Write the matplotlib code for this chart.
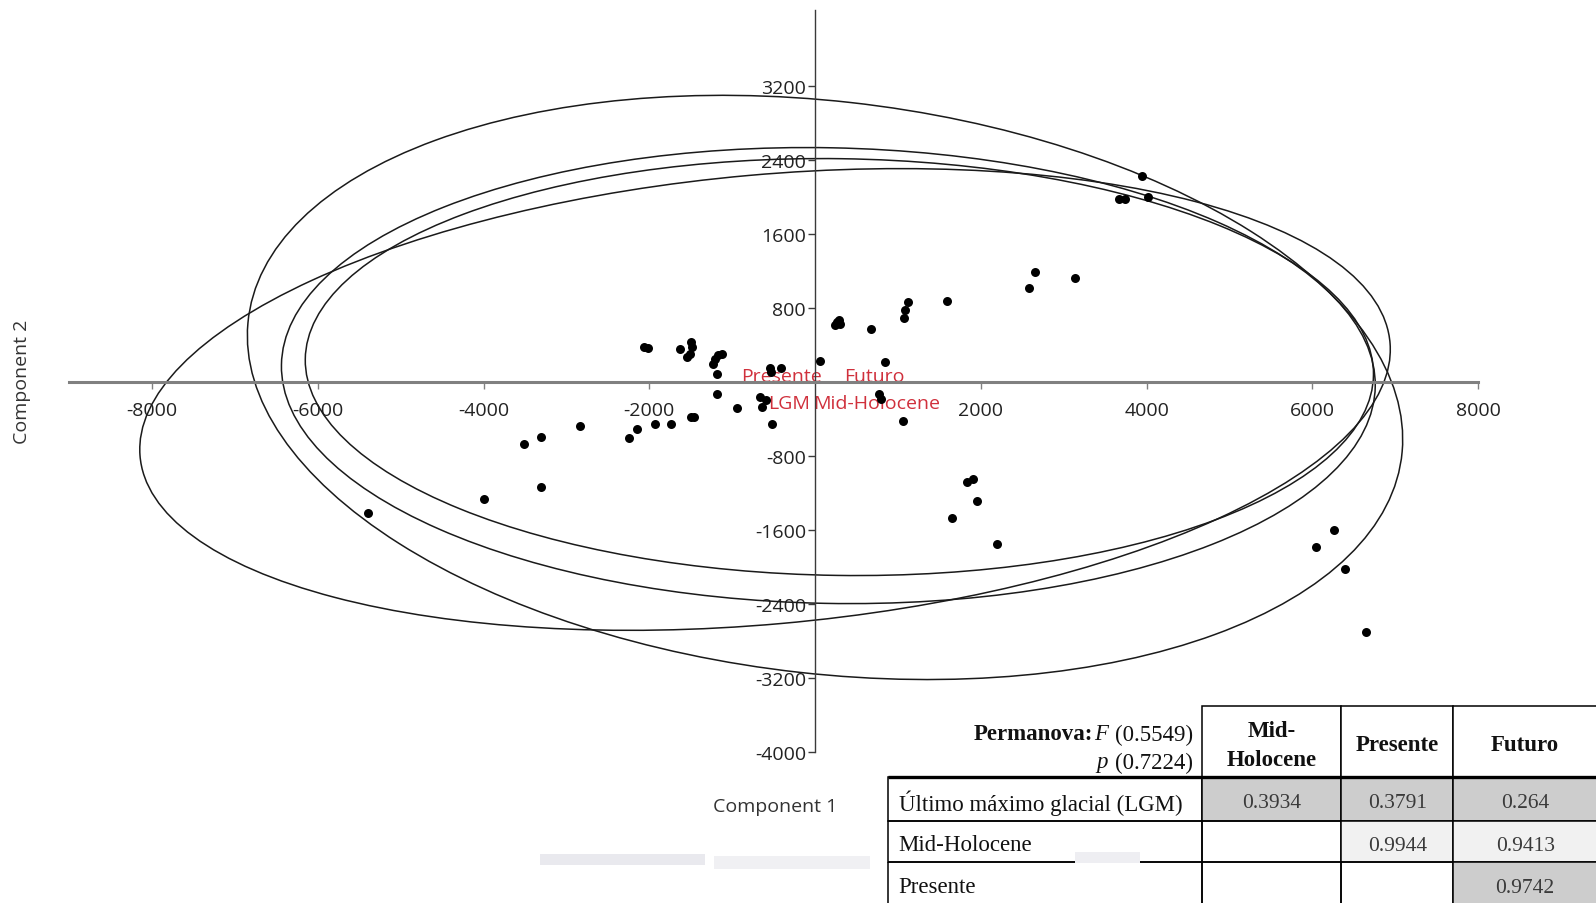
import matplotlib
matplotlib.use('Agg')
import matplotlib.pyplot as plt
from matplotlib.patches import Ellipse, Rectangle

plt.rcParams['axes.unicode_minus'] = False

# scores of the samples on the first two components
comp1 = [-5393, -3990, -3308, -3511, -3308, -2834, -2244, -2151, -1936, -1739,
         -1493, -1462, -2065, -2022, -1634, -1493, -1489, -1542, -1511, -1234,
         -1204, -1173, -1123, -1185, -1185, -945, -662, -638, -588, -545,
         -530, -416, -521, 60, 240, 260, 285, 295, 670, 843,
         770, 798, 1064, 1072, 1080, 1118, 1596, 2577, 2657, 3141,
         3664, 3744, 3940, 4013, 1829, 1902, 1957, 1656, 2190, 6046,
         6261, 6390, 6647]
comp2 = [-1411, -1260, -1134, -666, -594, -478, -605, -504, -457, -457,
         -378, -378, 378, 367, 360, 432, 378, 270, 306, 198,
         252, 288, 306, 80, -133, -281, -162, -270, -198, 145,
         108, 145, -457, 228, 610, 645, 670, 630, 575, 217,
         -133, -180, -418, 691, 775, 862, 871, 1019, 1188, 1127,
         1973, 1973, 2222, 1995, -1080, -1054, -1288, -1475, -1756, -1782,
         -1602, -2023, -2700]

# group labels (centroids)
groups = ['Presente', 'Futuro', 'LGM', 'Mid-Holocene']
group_x = [-407, 719, -315, 747]
group_y = [67, 67, -231, -231]

# 95% ellipses: centre, semi-axes, angle
ell_cx = [120, -604, 160, 293]
ell_cy = [-60, -190, 68, 160]
ell_a = [6998, 7566, 6600, 6445]
ell_b = [3092, 2427, 2460, 2250]
ell_ang = [-5.7, 4.56, -1.0, -0.75]

# permanova table
row_labels = ['Último máximo glacial (LGM)', 'Mid-Holocene', 'Presente']
col_labels = ['Mid-\nHolocene', 'Presente', 'Futuro']
p_values = [[0.3934, 0.3791, 0.264],
            [None, 0.9944, 0.9413],
            [None, None, 0.9742]]
shades = [['#cdcdcd', '#cdcdcd', '#cdcdcd'],
          [None, '#f1f1f1', '#f1f1f1'],
          [None, None, '#cdcdcd']]
F_stat = 0.5549
p_stat = 0.7224

W, H = 1596, 904


def fx(px):
    return px / W


def fy(py):
    return 1 - py / H


def main():
    fig = plt.figure(figsize=(W / 100, H / 100), dpi=100)
    draw_scatter(fig)
    draw_table(fig)
    fig.savefig('out.png', dpi=100)


def draw_scatter(fig):
    ax = fig.add_axes([fx(69.2), fy(753.3), fx(1478.1) - fx(69.2), fy(10.6) - fy(753.3)])
    ax.set_xlim(-9000, 8000)
    ax.set_ylim(-4000, 4020)
    ax.patch.set_alpha(0)
    for s in ['top', 'right']:
        ax.spines[s].set_visible(False)
    ax.spines['left'].set_position(('data', 0))
    ax.spines['bottom'].set_position(('data', 0))
    ax.spines['bottom'].set_color('#808080')
    ax.spines['bottom'].set_linewidth(2.2)
    ax.spines['left'].set_color('#3a3a3a')
    ax.spines['left'].set_linewidth(1.0)

    xt = [-8000, -6000, -4000, -2000, 2000, 4000, 6000, 8000]
    yt = [-4000, -3200, -2400, -1600, -800, 800, 1600, 2400, 3200]
    ax.set_xticks(xt)
    ax.set_xticklabels([str(v) for v in xt])
    ax.set_yticks(yt)
    ax.set_yticklabels([str(v) for v in yt])
    ax.tick_params(axis='x', length=5, width=1, color='#808080', pad=8.5,
                   labelsize=14, labelcolor='#222222')
    ax.tick_params(axis='y', length=5, width=1, color='#3a3a3a', pad=1.5,
                   labelsize=14, labelcolor='#222222')
    for lab in ax.get_xticklabels() + ax.get_yticklabels():
        lab.set_family('Open Sans')

    for cx, cy, a, b, ang in zip(ell_cx, ell_cy, ell_a, ell_b, ell_ang):
        ax.add_patch(Ellipse((cx, cy), 2 * a, 2 * b, angle=ang, fill=False,
                             ec='#1a1a1a', lw=1.1, zorder=2, clip_on=False))

    for name, x, y in zip(groups, group_x, group_y):
        ax.text(x, y, name, ha='center', va='center', color='#d0303c',
                fontsize=14, family='Open Sans', zorder=2.5)

    ax.scatter(comp1, comp2, s=42, c='black', linewidths=0, zorder=3)

    fig.text(fx(775), fy(807), 'Component 1', ha='center', va='center',
             fontsize=14, family='Open Sans', color='#333333')
    fig.text(fx(22.4), fy(382), 'Component 2', ha='center', va='center',
             rotation=90, fontsize=14, family='Open Sans', color='#333333')


def pieces_right(ax, x, y, pieces, renderer):
    # place text pieces right to left, ending at x; gap = space left of piece
    for s, kw, gap in reversed(pieces):
        t = ax.text(x, y, s, ha='right', va='center', family='Liberation Serif',
                    fontsize=16.5, color='#111111', **kw)
        bb = t.get_window_extent(renderer)
        x = ax.transData.inverted().transform((bb.x0, 0))[0] - gap


def draw_table(fig):
    # faint smear under the table
    for x0, x1, y0, y1, c in [(540, 705, 855, 866, '#e9e9ee'),
                              (714, 870, 857, 870, '#f0f0f3'),
                              (1075, 1140, 853, 864, '#eeeef2')]:
        fig.patches.append(Rectangle((fx(x0), fy(y1)), fx(x1) - fx(x0), fy(y0) - fy(y1),
                                     transform=fig.transFigure, fc=c, ec='none',
                                     zorder=0))

    tax = fig.add_axes([fx(870), 0, fx(1596) - fx(870), fy(690)])
    tax.set_xlim(870, 1596)
    tax.set_ylim(904, 690)
    tax.axis('off')

    cols = [887.6, 1202, 1341.3, 1453.3, 1597]
    rows = [707.3, 778.3, 821.7, 863.3, 906]

    # header cells
    for j, lab in enumerate(col_labels):
        tax.add_patch(Rectangle((cols[j + 1], rows[0]), cols[j + 2] - cols[j + 1],
                                rows[1] - rows[0], fc='white', ec='black',
                                lw=1.1, clip_on=False))
        tax.text((cols[j + 1] + cols[j + 2]) / 2, (rows[0] + rows[1]) / 2 + 3, lab,
                 ha='center', va='center', family='Liberation Serif',
                 fontsize=16.5, fontweight='bold', linespacing=1.5, color='#111111')

    # body cells
    for i, lab in enumerate(row_labels):
        y0, y1 = rows[i + 1], rows[i + 2]
        tax.add_patch(Rectangle((cols[0], y0), cols[1] - cols[0], y1 - y0,
                                fc='none', ec='black', lw=1.1, clip_on=False))
        tax.text(cols[0] + 11, (y0 + y1) / 2 + 3, lab, ha='left', va='center',
                 family='Liberation Serif', fontsize=16.5, color='#111111')
        for j in range(3):
            fc = shades[i][j] or 'none'
            tax.add_patch(Rectangle((cols[j + 1], y0), cols[j + 2] - cols[j + 1],
                                    y1 - y0, fc=fc, ec='black', lw=1.1,
                                    clip_on=False))
            v = p_values[i][j]
            if v is not None:
                tax.text((cols[j + 1] + cols[j + 2]) / 2, (y0 + y1) / 2 + 4, str(v),
                         ha='center', va='center', family='Liberation Serif',
                         fontsize=15.5, color='#3a3a3a')

    tax.plot([cols[0], cols[-1]], [rows[1], rows[1]], color='black', lw=2.4,
             clip_on=False, solid_capstyle='butt')

    renderer = fig.canvas.get_renderer()
    pieces_right(tax, 1193, 735, [('Permanova:', {'fontweight': 'bold'}, 0),
                                  ('F', {'style': 'italic'}, 1),
                                  ('(%s)' % F_stat, {}, 7)], renderer)
    pieces_right(tax, 1193, 763, [('p', {'style': 'italic'}, 0),
                                  ('(%s)' % p_stat, {}, 7)], renderer)


if __name__ == '__main__':
    main()
